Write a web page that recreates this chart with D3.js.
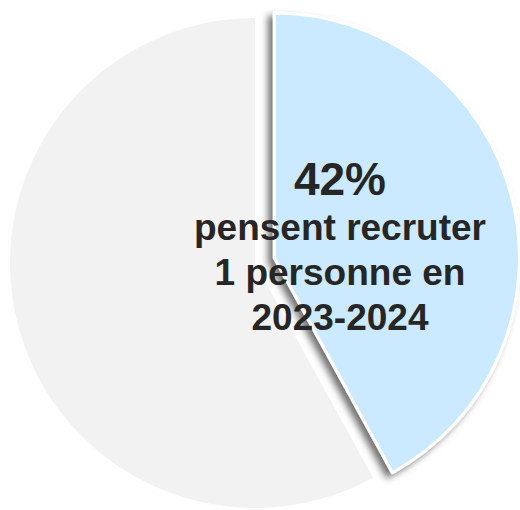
<!DOCTYPE html>
<html>
<head>
<meta charset="utf-8">
<script src="https://cdn.jsdelivr.net/npm/d3@7"></script>
<style>
  html, body { margin: 0; padding: 0; background: #fff; }
  svg { display: block; }
</style>
</head>
<body>
<div id="chart"></div>
<script>
var categories = ["Recruter 1 personne", "Autres"];
var values = [42, 58];
var colors = ["#cceaff", "#f2f2f2"];
var labelLines = ["pensent recruter", "1 personne en", "2023-2024"];

var width = 520, height = 510;
var cx = 255, cy = 263, radius = 245;
var explode = 20;

var svg = d3.select("#chart").append("svg")
    .attr("width", width)
    .attr("height", height);

// shadow for the pulled-out slice
var defs = svg.append("defs");
var filter = defs.append("filter")
    .attr("id", "shadow")
    .attr("x", "-20%").attr("y", "-20%")
    .attr("width", "140%").attr("height", "140%");
filter.append("feDropShadow")
    .attr("dx", -5).attr("dy", 4)
    .attr("stdDeviation", 3.5)
    .attr("flood-color", "#000")
    .attr("flood-opacity", 0.55);

var pie = d3.pie().sort(null).value(function(d) { return d; });
var arcs = pie(values);
var arc = d3.arc().innerRadius(0).outerRadius(radius);

var g = svg.append("g").attr("transform", "translate(" + cx + "," + cy + ")");

// draw the grey slice first, then the blue one on top
var order = [1, 0];
order.forEach(function(i) {
    var a = arcs[i];
    var dx = 0, dy = 0;
    if (i === 0) {
        var mid = (a.startAngle + a.endAngle) / 2;
        dx = Math.sin(mid) * explode;
        dy = -Math.cos(mid) * explode;
    }
    g.append("path")
        .attr("d", arc(a))
        .attr("transform", "translate(" + dx + "," + dy + ")")
        .attr("fill", colors[i])
        .attr("stroke", i === 0 ? "#fff" : "none")
        .attr("stroke-width", i === 0 ? 3 : 0)
        .attr("stroke-linejoin", "round")
        .attr("filter", i === 0 ? "url(#shadow)" : null);
});

// label
var tx = 340;
var label = svg.append("g").attr("fill", "#262626")
    .attr("font-family", "Liberation Sans, Arial, sans-serif")
    .attr("font-weight", "bold")
    .attr("text-anchor", "middle");

label.append("text")
    .attr("x", tx).attr("y", 195)
    .attr("font-size", 46)
    .text(values[0] + "%");

labelLines.forEach(function(t, i) {
    label.append("text")
        .attr("x", tx).attr("y", 240 + i * 45)
        .attr("font-size", 37)
        .text(t);
});
</script>
</body>
</html>
